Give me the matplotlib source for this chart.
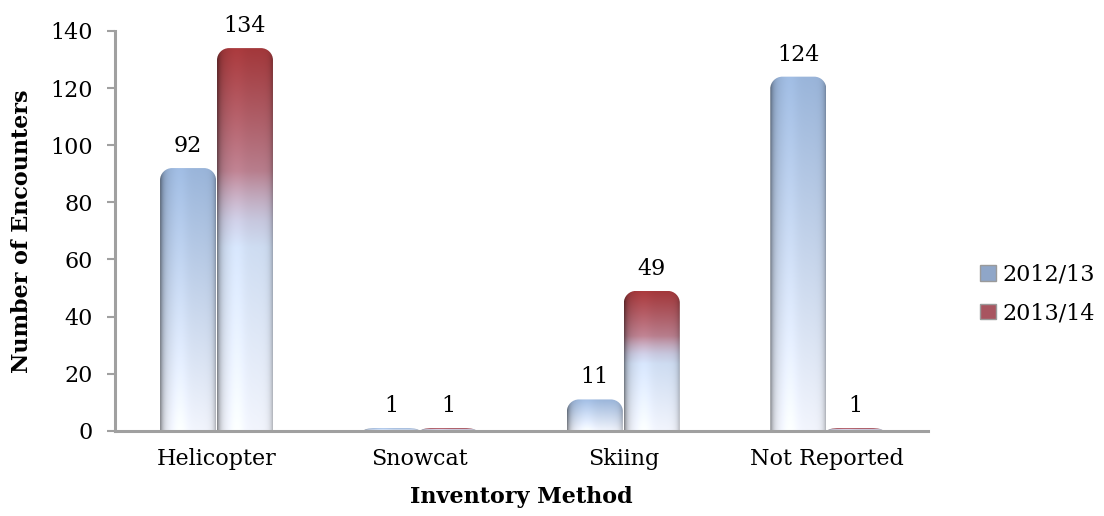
import numpy as np
import matplotlib
matplotlib.use('Agg')
import matplotlib.pyplot as plt
from matplotlib.path import Path
from matplotlib.patches import PathPatch, Patch
from matplotlib.colors import to_rgb

# encounters by inventory method, two seasons
methods = ['Helicopter', 'Snowcat', 'Skiing', 'Not Reported']
seasons = ['2012/13', '2013/14']
enc_2012 = [92, 1, 11, 124]
enc_2013 = [134, 1, 49, 1]

plt.rcParams['font.family'] = 'DejaVu Serif'
FS = 16

fig = plt.figure(figsize=(11.04, 5.16), dpi=100)
ax = fig.add_axes([0.104, 0.165, 0.737, 0.775])
ax.set_xlim(-0.5, 3.5)
ax.set_ylim(0, 140)

BLUE_TOP = np.array(to_rgb('#9ab5da'))
BLUE_BOT = np.array(to_rgb('#f2f5fd'))
RED_TOP = np.array(to_rgb('#a3383b'))
RED_MID = np.array(to_rgb('#c4a7bd'))


def column_colors(kind, n=200):
    # rows go from bottom (0) to top (1)
    t = np.linspace(0, 1, n)[:, None]
    if kind == 0:
        col = BLUE_BOT + (BLUE_TOP - BLUE_BOT) * t
    else:
        base = BLUE_BOT + (np.array(to_rgb('#c9d9f0')) - BLUE_BOT) * np.clip(t / 0.55, 0, 1)
        red = RED_MID + (RED_TOP - RED_MID) * np.clip((t - 0.55) / 0.45, 0, 1) ** 0.8
        w = np.clip((t - 0.48) / 0.2, 0, 1)
        col = base * (1 - w) + red * w
    return col


def shading(n=60):
    # cylinder-ish side shading, dark at the edges
    s = np.linspace(0, 1, n)
    prof = 1 - 0.45 * np.exp(-s / 0.06) - 0.25 * np.exp(-(1 - s) / 0.05)
    prof = prof + 0.05 * np.exp(-((s - 0.35) / 0.15) ** 2)
    return np.clip(prof, 0, 1.05)


def rounded_top(x0, x1, h, rx, ry):
    ry = min(ry, h)
    rx = min(rx, (x1 - x0) / 2)
    k = 0.55
    verts = [(x0, 0), (x0, h - ry),
             (x0, h - ry + k * ry), (x0 + rx - k * rx, h), (x0 + rx, h),
             (x1 - rx, h),
             (x1 - rx + k * rx, h), (x1, h - ry + k * ry), (x1, h - ry),
             (x1, 0), (x0, 0)]
    codes = [Path.MOVETO, Path.LINETO,
             Path.CURVE4, Path.CURVE4, Path.CURVE4,
             Path.LINETO,
             Path.CURVE4, Path.CURVE4, Path.CURVE4,
             Path.LINETO, Path.CLOSEPOLY]
    return Path(verts, codes)


x = np.arange(len(methods))
width = 0.275
offsets = [-0.14, 0.14]
px_x = 4.0 / 811
px_y = 140.0 / 400

for k, vals in enumerate([enc_2012, enc_2013]):
    bars = ax.bar(x + offsets[k], vals, width, color='none', edgecolor='none')
    for rect, v in zip(bars, vals):
        x0 = rect.get_x()
        x1 = x0 + rect.get_width()
        h = rect.get_height()
        col = column_colors(k)
        img = col[:, None, :] * shading()[None, :, None]
        img = np.clip(img, 0, 1)
        im = ax.imshow(img, extent=[x0, x1, 0, h], origin='lower',
                       aspect='auto', interpolation='bilinear', zorder=2)
        clip = PathPatch(rounded_top(x0, x1, h, 12 * px_x, 12 * px_y),
                         facecolor='none', edgecolor='none',
                         transform=ax.transData)
        ax.add_patch(clip)
        im.set_clip_path(clip)
        ax.annotate(str(v), (rect.get_x() + rect.get_width() / 2, h),
                    xytext=(0, 8), textcoords='offset points',
                    ha='center', va='bottom', fontsize=FS)

ax.set_aspect('auto')
ax.set_xlim(-0.5, 3.5)
ax.set_ylim(0, 140)
ax.set_xticks(x)
ax.set_xticklabels(methods, fontsize=FS)
ax.tick_params(axis='x', length=0, pad=12)
ax.set_yticks(np.arange(0, 141, 20))
ax.tick_params(axis='y', labelsize=FS, length=6, width=1.5,
               color='#a0a0a0', pad=10)
for side in ['top', 'right']:
    ax.spines[side].set_visible(False)
for side in ['left', 'bottom']:
    ax.spines[side].set_color('#a0a0a0')
    ax.spines[side].set_linewidth(2.2)

ax.set_ylabel('Number of Encounters', fontsize=FS, fontweight='bold', labelpad=12)
ax.set_xlabel('Inventory Method', fontsize=FS, fontweight='bold', labelpad=12)

handles = [Patch(facecolor='#8fa6c8', edgecolor='#9a9a9a', label=seasons[0]),
           Patch(facecolor='#a85560', edgecolor='#9a9a9a', label=seasons[1])]
fig.legend(handles=handles, loc='center left', bbox_to_anchor=(0.87, 0.43),
           frameon=False, fontsize=FS, handlelength=0.7, handleheight=0.7,
           handletextpad=0.3, labelspacing=0.75)

fig.savefig('out.png', dpi=100)
